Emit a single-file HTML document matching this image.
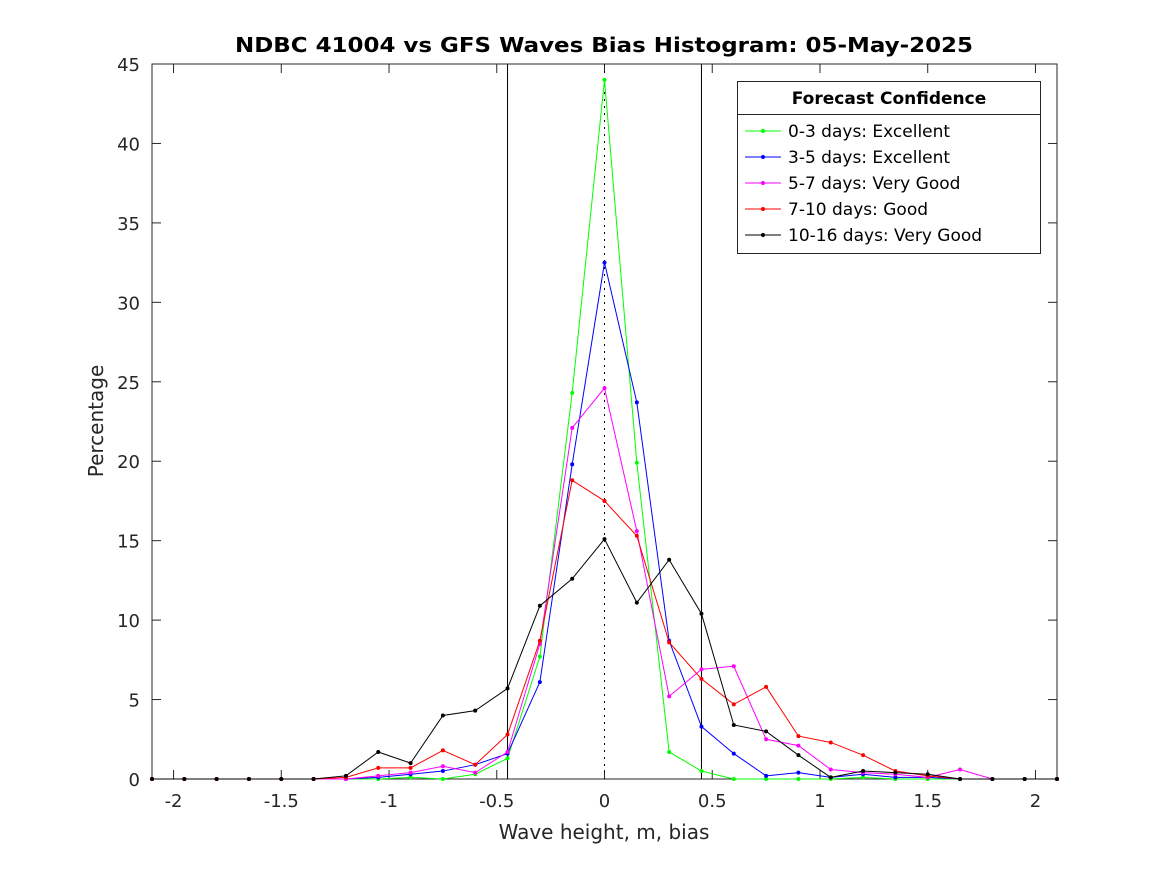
<!DOCTYPE html>
<html><head><meta charset="utf-8"><style>
body{margin:0;background:#fff;font-family:"DejaVu Sans",sans-serif}
svg text{font-family:"DejaVu Sans",sans-serif}
</style></head><body>
<svg id="c" width="1167" height="875"></svg>
<script>
const xs=[-2.1,-1.95,-1.8,-1.65,-1.5,-1.35,-1.2,-1.05,-0.9,-0.75,-0.6,-0.45,-0.3,-0.15,0,0.15,0.3,0.45,0.6,0.75,0.9,1.05,1.2,1.35,1.5,1.65,1.8,1.95,2.1];
const green=[0,0,0,0,0,0,0,0,0.1,0,0.3,1.3,7.7,24.3,44,19.9,1.7,0.5,0,0,0,0,0.1,0,0,0,0,0,0];
const blue=[0,0,0,0,0,0,0,0.1,0.3,0.5,0.9,1.6,6.1,19.8,32.5,23.7,8.7,3.3,1.6,0.2,0.4,0.1,0.3,0.1,0.1,0,0,0,0];
const magenta=[0,0,0,0,0,0,0,0.2,0.4,0.8,0.4,1.7,8.5,22.1,24.6,15.6,5.2,6.9,7.1,2.5,2.1,0.6,0.4,0.3,0.1,0.6,0,0,0];
const red=[0,0,0,0,0,0,0.1,0.7,0.7,1.8,0.9,2.8,8.7,18.8,17.5,15.3,8.6,6.3,4.7,5.8,2.7,2.3,1.5,0.5,0.2,0,0,0,0];
const black=[0,0,0,0,0,0,0.2,1.7,1.0,4.0,4.3,5.7,10.9,12.6,15.1,11.1,13.8,10.4,3.4,3.0,1.5,0.1,0.5,0.4,0.3,0,0,0,0];
const xTicks=[-2,-1.5,-1,-0.5,0,0.5,1,1.5,2];
const xTickLabels=["-2","-1.5","-1","-0.5","0","0.5","1","1.5","2"];
const yTicks=[0,5,10,15,20,25,30,35,40,45];
const seriesNames=["0-3 days: Excellent","3-5 days: Excellent","5-7 days: Very Good","7-10 days: Good","10-16 days: Very Good"];
const L=152,R=1057,T=64,B=779;
const X=v=>L+(v+2.1)/4.2*(R-L);
const Y=v=>B-v/45*(B-T);
const svg=document.getElementById('c');
const NS="http://www.w3.org/2000/svg";
function mk(t,a,p){const e=document.createElementNS(NS,t);for(const k in a)e.setAttribute(k,a[k]);(p||svg).appendChild(e);return e;}
let e;
e=mk('rect',{x:L,y:T,width:R-L,height:B-T,fill:'#fff',stroke:'#262626','stroke-width':1});


xTicks.forEach((v,i)=>{
 mk('line',{x1:X(v),x2:X(v),y1:B,y2:B-9,stroke:'#262626'});
 mk('line',{x1:X(v),x2:X(v),y1:T,y2:T+9,stroke:'#262626'});
 const t=mk('text',{x:X(v),y:B+28,'text-anchor':'middle','font-size':18,fill:'#262626'});t.textContent=xTickLabels[i];
 
 
});
yTicks.forEach(v=>{
 mk('line',{x1:L,x2:L+9,y1:Y(v),y2:Y(v),stroke:'#262626'});
 mk('line',{x1:R,x2:R-9,y1:Y(v),y2:Y(v),stroke:'#262626'});
 const t=mk('text',{x:L-12,y:Y(v)+7,'text-anchor':'end','font-size':18,fill:'#262626'});t.textContent=v;
 
 
});
[-0.45,0.45].forEach(v=>{e=mk('line',{x1:X(v),x2:X(v),y1:T,y2:B,stroke:'#000'});
 
 });
e=mk('line',{x1:X(0),x2:X(0),y1:T,y2:B,stroke:'#000','stroke-dasharray':'2,5'});


const series=[green,blue,magenta,red,black];
const colors=['#00ff00','#0000ff','#ff00ff','#ff0000','#000000'];
series.forEach((s,k)=>{
 const g=mk('g',{});
 
 
 mk('polyline',{points:s.map((v,i)=>X(xs[i])+','+Y(v)).join(' '),fill:'none',stroke:colors[k],'stroke-width':1},g);
 s.forEach((v,i)=>mk('circle',{cx:X(xs[i]),cy:Y(v),r:2,fill:colors[k]},g));
});
const lg=mk('g',{});


mk('rect',{x:737.5,y:81.5,width:303,height:172,fill:'#fff',stroke:'#262626'},lg);
mk('line',{x1:737.5,x2:1040.5,y1:114.5,y2:114.5,stroke:'#262626'},lg);
e=mk('text',{x:889,y:104,'text-anchor':'middle','font-size':17,'font-weight':'bold',fill:'#000'},lg);e.textContent='Forecast Confidence';
seriesNames.forEach((n,k)=>{
 const y=131+k*26;
 mk('line',{x1:745,x2:781,y1:y,y2:y,stroke:colors[k]},lg);
 mk('circle',{cx:763,cy:y,r:2,fill:colors[k]},lg);
 const t=mk('text',{x:788,y:y+6,'font-size':17,fill:'#000'},lg);t.textContent=n;
 
 
});
e=mk('text',{x:604,y:52,'text-anchor':'middle','font-size':20,'font-weight':'bold',fill:'#000',textLength:738,lengthAdjust:'spacingAndGlyphs'});e.textContent='NDBC 41004 vs GFS Waves Bias Histogram: 05-May-2025';


e=mk('text',{x:604,y:839,'text-anchor':'middle','font-size':20,fill:'#262626'});e.textContent='Wave height, m, bias';


e=mk('text',{x:0,y:0,'text-anchor':'middle','font-size':20,fill:'#262626',transform:'translate(103,421) rotate(-90)'});e.textContent='Percentage';


</script>
</body></html>
